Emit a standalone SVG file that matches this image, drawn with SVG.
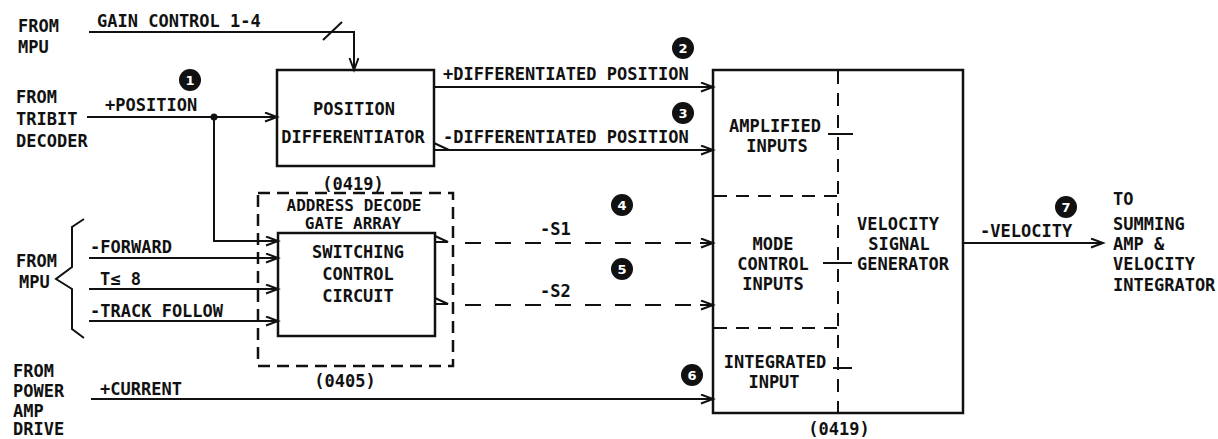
<svg xmlns="http://www.w3.org/2000/svg" width="1218" height="439" viewBox="0 0 1218 439">
<defs>
<marker id="arr" markerUnits="userSpaceOnUse" markerWidth="16" markerHeight="12" refX="13" refY="5" orient="auto">
<path d="M1,0.5 L13,5 L1,9.5" fill="none" stroke="#111" stroke-width="2"/>
</marker>
<style>
text{font-family:"DejaVu Sans Mono","Liberation Mono",monospace;font-size:17px;font-weight:bold;fill:#111}
.c{text-anchor:middle}
.sm{font-size:16px}
.box{fill:none;stroke:#111;stroke-width:2.5}
.dbox{fill:none;stroke:#111;stroke-width:2.5;stroke-dasharray:12 7}
.ln{fill:none;stroke:#111;stroke-width:2}
.dl{fill:none;stroke:#111;stroke-width:2;stroke-dasharray:16 14}
.dv{fill:none;stroke:#111;stroke-width:2;stroke-dasharray:13 9}
.num{fill:#111}
.nt{fill:#fff;font-family:"DejaVu Sans","Liberation Sans",sans-serif;font-size:13px;font-weight:bold;text-anchor:middle}
</style>
</defs>
<rect width="1218" height="439" fill="#fff"/>

<g id="labels-left">
<text x="18" y="32">FROM</text><text x="18" y="53">MPU</text>
<text x="16" y="103">FROM</text><text x="16" y="125">TRIBIT</text><text x="16" y="147">DECODER</text>
<text x="16" y="267">FROM</text><text x="19" y="288">MPU</text>
<text x="13" y="377">FROM</text><text x="13" y="397">POWER</text><text x="13" y="417">AMP</text><text x="13" y="435">DRIVE</text>
</g>

<g id="position-differentiator">
<rect class="box" x="277" y="70" width="157" height="96"/>
<text class="c" x="354" y="115">POSITION</text>
<text class="c" x="353" y="143">DIFFERENTIATOR</text>
<text class="c" x="353" y="190">(0419)</text>
</g>

<g id="address-decode-gate-array">
<rect class="dbox" x="258" y="193" width="195" height="173"/>
<text class="c sm" x="354" y="211">ADDRESS DECODE</text>
<text class="c sm" x="353" y="229">GATE ARRAY</text>
<text class="c" x="345" y="387">(0405)</text>
</g>

<g id="switching-control-circuit">
<rect class="box" x="278" y="233" width="157" height="103"/>
<text class="c" x="358" y="258">SWITCHING</text>
<text class="c" x="358" y="280">CONTROL</text>
<text class="c" x="358" y="302">CIRCUIT</text>
</g>

<g id="velocity-signal-generator">
<rect class="box" x="713" y="70" width="250" height="343"/>
<path class="dv" d="M838,71 V412"/>
<path class="dv" d="M714,196 H838"/>
<path class="dv" d="M714,328 H838"/>
<path class="ln" d="M828,134 H853 M823,263 H852 M833,368 H852"/>
<text class="c" x="775" y="132">AMPLIFIED</text>
<text class="c" x="777" y="152">INPUTS</text>
<text class="c" x="773" y="250">MODE</text>
<text class="c" x="773" y="270">CONTROL</text>
<text class="c" x="773" y="290">INPUTS</text>
<text class="c" x="775" y="368">INTEGRATED</text>
<text class="c" x="774" y="388">INPUT</text>
<text class="c" x="898" y="230">VELOCITY</text>
<text class="c" x="899" y="250">SIGNAL</text>
<text class="c" x="903" y="270">GENERATOR</text>
<text class="c" x="839" y="435">(0419)</text>
</g>

<g id="output-label">
<text x="1113" y="205">TO</text><text x="1113" y="230">SUMMING</text><text x="1113" y="250">AMP &amp;</text><text x="1113" y="270">VELOCITY</text><text x="1113" y="291">INTEGRATOR</text>
</g>

<g id="connectors">
<path class="ln" d="M89,32 H354 V70" marker-end="url(#arr)"/>
<path class="ln" d="M323,40 L342,22"/>
<path class="ln" d="M87,117 H277" marker-end="url(#arr)"/>
<circle cx="214" cy="117" r="3.5" fill="#111"/>
<path class="ln" d="M214,117 V241 H278" marker-end="url(#arr)"/>
<path class="ln" d="M434,87 H713" marker-end="url(#arr)"/>
<path class="ln" d="M434,150 H713" marker-end="url(#arr)"/>
<path class="ln" d="M434,143 L449,150"/>
<path class="ln" d="M89,258 H278" marker-end="url(#arr)"/>
<path class="ln" d="M89,289 H278" marker-end="url(#arr)"/>
<path class="ln" d="M89,321 H278" marker-end="url(#arr)"/>
<path class="ln" d="M435,236 L448,242 H435"/>
<path class="ln" d="M435,298 L448,304 H435"/>
<path class="dl" d="M465,243 H700"/>
<path class="ln" d="M700,243 H713" marker-end="url(#arr)"/>
<path class="dl" d="M465,305 H700"/>
<path class="ln" d="M700,305 H713" marker-end="url(#arr)"/>
<path class="ln" d="M91,399 H713" marker-end="url(#arr)"/>
<path class="ln" d="M963,243 H1103" marker-end="url(#arr)"/>
<path class="ln" d="M84,219 L72,227 V267 L56,279 L72,289 V329 L84,338"/>
<text x="97" y="27">GAIN CONTROL 1-4</text>
<text x="105" y="111">+POSITION</text>
<text x="443" y="80">+DIFFERENTIATED POSITION</text>
<text x="443" y="143">-DIFFERENTIATED POSITION</text>
<text x="90" y="253">-FORWARD</text>
<text x="100" y="285">T≤ 8</text>
<text x="90" y="317">-TRACK FOLLOW</text>
<text x="540" y="235">-S1</text>
<text x="540" y="297">-S2</text>
<text x="100" y="395">+CURRENT</text>
<text x="980" y="237">-VELOCITY</text>
</g>

<g id="markers">
<circle class="num" cx="190" cy="80" r="11"/><text class="nt" x="190" y="85">1</text>
<circle class="num" cx="683" cy="48" r="11"/><text class="nt" x="683" y="53">2</text>
<circle class="num" cx="683" cy="113" r="11"/><text class="nt" x="683" y="118">3</text>
<circle class="num" cx="622" cy="205" r="11"/><text class="nt" x="622" y="210">4</text>
<circle class="num" cx="622" cy="269" r="11"/><text class="nt" x="622" y="274">5</text>
<circle class="num" cx="692" cy="375" r="11"/><text class="nt" x="692" y="380">6</text>
<circle class="num" cx="1066" cy="207" r="11"/><text class="nt" x="1066" y="212">7</text>
</g>
</svg>
